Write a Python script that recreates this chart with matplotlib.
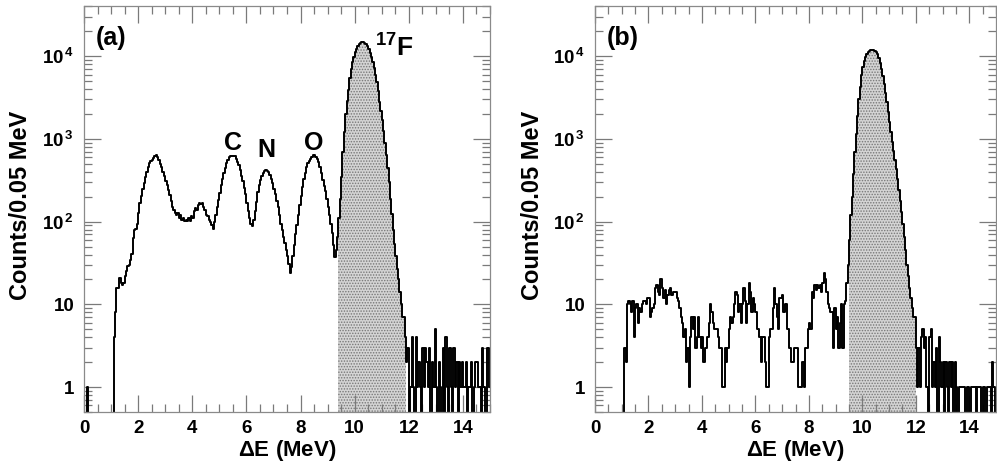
import numpy as np
import matplotlib

matplotlib.use("Agg")
import matplotlib.pyplot as plt
from matplotlib.ticker import FixedLocator, MultipleLocator, LogLocator, NullFormatter

plt.rcParams["font.family"] = ["Liberation Sans", "DejaVu Sans"]
plt.rcParams["font.weight"] = "bold"
plt.rcParams["mathtext.fontset"] = "custom"
plt.rcParams["mathtext.rm"] = "Liberation Sans:bold"
plt.rcParams["mathtext.bf"] = "Liberation Sans:bold"
plt.rcParams["mathtext.it"] = "Liberation Sans:bold"
plt.rcParams["hatch.linewidth"] = 0.7

# ------------------------------------------------------------
# data: counts per 0.05 MeV bin, one row = 1 MeV (20 bins)
# ------------------------------------------------------------
bin_width = 0.05
edges = np.round(np.arange(0, 15.0 + bin_width / 2, bin_width), 2)

counts_a = [
    0, 0, 1, 0, 0, 0, 0, 0, 0, 0, 0, 0, 0, 0, 0, 0, 0, 0, 0, 0,
    0, 0, 4, 8, 16, 16, 21, 18, 17, 18, 22, 25, 29, 30, 34, 41, 64, 80, 81, 95,
    128, 170, 205, 245, 295, 350, 400, 460, 510, 540, 560, 590, 625, 645, 600, 550, 500, 455, 400, 360,
    310, 275, 240, 210, 180, 152, 140, 128, 120, 126, 112, 120, 106, 110, 103, 106, 101, 112, 103, 118,
    112, 134, 148, 140, 158, 170, 163, 168, 150, 138, 122, 118, 104, 98, 90, 82, 100, 120, 150, 185,
    225, 280, 330, 390, 450, 510, 560, 600, 620, 630, 625, 615, 580, 530, 480, 420, 360, 310, 255, 215,
    170, 135, 110, 95, 88, 105, 135, 175, 230, 280, 320, 360, 390, 410, 425, 415, 400, 370, 330, 290,
    250, 215, 180, 150, 120, 95, 80, 66, 55, 46, 38, 31, 24, 28, 38, 52, 70, 90, 120, 160,
    205, 260, 330, 390, 460, 510, 545, 580, 610, 635, 645, 610, 570, 530, 460, 390, 320, 270, 235, 190,
    150, 120, 95, 72, 52, 37, 45, 66, 110, 190, 350, 700, 1200, 2000, 2900, 3900, 5500, 7000, 8500, 9800,
    11200, 12400, 13300, 14000, 14400, 14700, 14800, 14500, 14200, 13200,
    12200, 11000, 9800, 8500, 7300, 6000, 4900, 3800, 2800, 2200,
    1700, 1250, 900, 640, 440, 300, 190, 125, 80, 54, 38, 27, 20, 14, 10, 7, 7, 4, 2, 3,
    0, 1, 4, 1, 0, 4, 1, 2, 1, 0, 3, 1, 3, 2, 1, 3, 0, 2, 1, 5,
    1, 0, 2, 1, 0, 3, 0, 4, 1, 0, 3, 1, 0, 3, 1, 2, 0, 2, 1, 2,
    1, 1, 2, 0, 1, 1, 2, 0, 1, 2, 2, 1, 1, 0, 3, 1, 0, 0, 3, 1,
]

counts_b = [
    0, 0, 0, 0, 0, 0, 0, 0, 0, 0, 0, 0, 0, 0, 0, 0, 0, 0, 0, 0,
    0, 0, 3, 2, 10, 11, 10, 8, 11, 4, 9, 10, 6, 9, 8, 10, 11, 11, 10, 12,
    12, 7, 8, 9, 10, 16, 17, 14, 13, 20, 16, 12, 15, 10, 13, 15, 16, 13, 14, 14,
    14, 12, 11, 9, 7, 6, 4, 5, 2, 3, 1, 4, 7, 5, 7, 3, 4, 7, 4, 3,
    4, 2, 3, 3, 4, 6, 10, 8, 6, 5, 5, 5, 4, 3, 3, 1, 1, 3, 2, 3,
    5, 7, 6, 7, 10, 14, 13, 8, 10, 6, 10, 16, 11, 6, 10, 18, 14, 8, 12, 10,
    8, 5, 5, 4, 2, 4, 4, 2, 1, 1, 4, 5, 5, 9, 16, 10, 7, 5, 12, 12,
    13, 8, 10, 10, 5, 3, 3, 2, 2, 3, 3, 3, 1, 1, 1, 2, 1, 3, 3, 5,
    6, 5, 14, 12, 17, 15, 17, 16, 17, 14, 18, 24, 20, 14, 10, 9, 8, 8, 3, 9,
    5, 7, 3, 6, 10, 3, 10, 11, 18, 30, 60, 120, 200, 380, 700, 1150, 1900, 3000, 4300, 5900,
    7400, 8700, 9800, 10600, 11100, 11500, 11800, 11900, 11900, 11600,
    11200, 10600, 9600, 8300, 7000, 5700, 4600, 3600, 2800, 2100,
    1600, 1200, 930, 720, 560, 430, 330, 240, 180, 130, 95, 65, 45, 30, 22, 16, 12, 9, 7, 7,
    3, 1, 3, 1, 4, 5, 3, 4, 1, 0, 4, 5, 1, 2, 1, 3, 0, 4, 2, 1,
    2, 0, 2, 1, 0, 2, 1, 2, 0, 2, 1, 0, 1, 1, 1, 1, 1, 0, 1, 1,
    0, 1, 1, 1, 1, 0, 1, 1, 1, 0, 1, 1, 0, 1, 1, 1, 0, 2, 1, 0,
]

# 17F gate (shaded region) for each panel, MeV
gate_a = (9.4, 11.9)
gate_b = (9.5, 12.0)

ytick_vals = [1, 10, 100, 1000, 10000]
ytick_labels = ["1", "10", r"$10^{\,2}$", r"$10^{\,3}$", r"$10^{\,4}$"]

peak_labels = ["C", "N", "O"]
peak_pos = [(5.5, 890), (6.75, 740), (8.5, 890)]


def draw_panel(ax, counts, gate, tag):
    counts = np.asarray(counts, dtype=float)
    shown = np.where(counts > 0, counts, 0.1)  # empty bins drop below the axis
    left = edges[:-1]

    sel = (left >= gate[0] - 1e-9) & (left < gate[1] - 1e-9)
    gx = np.append(left[sel], left[sel][-1] + bin_width)
    gy = np.append(shown[sel], shown[sel][-1])
    ax.fill_between(gx, 0.1, gy, step="post", facecolor="#d4d4d4",
                    edgecolor="#777777", hatch="......", linewidth=0)

    ax.step(np.append(left, edges[-1]), np.append(shown, shown[-1]),
            where="post", color="black", lw=1.4)

    ax.set_yscale("log")
    ax.set_xlim(0, 15)
    ax.set_ylim(0.5, 4.05e4)

    ax.yaxis.set_major_locator(FixedLocator(ytick_vals))
    ax.set_yticklabels(ytick_labels)
    ax.yaxis.set_minor_locator(LogLocator(base=10, subs=np.arange(2, 10)))
    ax.yaxis.set_minor_formatter(NullFormatter())
    ax.xaxis.set_major_locator(MultipleLocator(2))
    ax.xaxis.set_minor_locator(MultipleLocator(0.5))

    ax.tick_params(which="both", direction="in", top=True, right=True,
                   color="#7a7a7a", labelsize=13.5, width=0.9)
    ax.tick_params(which="major", length=12)
    ax.tick_params(which="minor", length=6)
    ax.tick_params(axis="x", pad=6)
    ax.tick_params(axis="y", pad=7)
    for s in ax.spines.values():
        s.set_color("#8a8a8a")
        s.set_linewidth(0.9)

    ax.set_xlabel(r"$\Delta$E (MeV)", fontsize=16, fontweight="bold")
    ax.xaxis.set_label_coords(0.5, -0.064)
    ax.set_ylabel("Counts/0.05 MeV", fontsize=17, fontweight="bold")
    ax.yaxis.set_label_coords(-0.128, 0.51)

    ax.text(0.03, 0.92, tag, transform=ax.transAxes, fontsize=18,
            fontweight="bold", va="center", ha="left")


fig = plt.figure(figsize=(9.97, 4.63), dpi=100)
ax_a = fig.add_axes([84 / 997, 51 / 463, 406 / 997, 406 / 463])
ax_b = fig.add_axes([595 / 997, 51 / 463, 401 / 997, 406 / 463])

draw_panel(ax_a, counts_a, gate_a, "(a)")
draw_panel(ax_b, counts_b, gate_b, "(b)")

for lab, (px, py) in zip(peak_labels, peak_pos):
    ax_a.text(px, py, lab, fontsize=18, fontweight="bold", ha="center", va="center")
ax_a.text(11.45, 12600, r"$^{17}$F", fontsize=19, fontweight="bold", ha="center", va="center")

fig.savefig("out.png", dpi=100)
